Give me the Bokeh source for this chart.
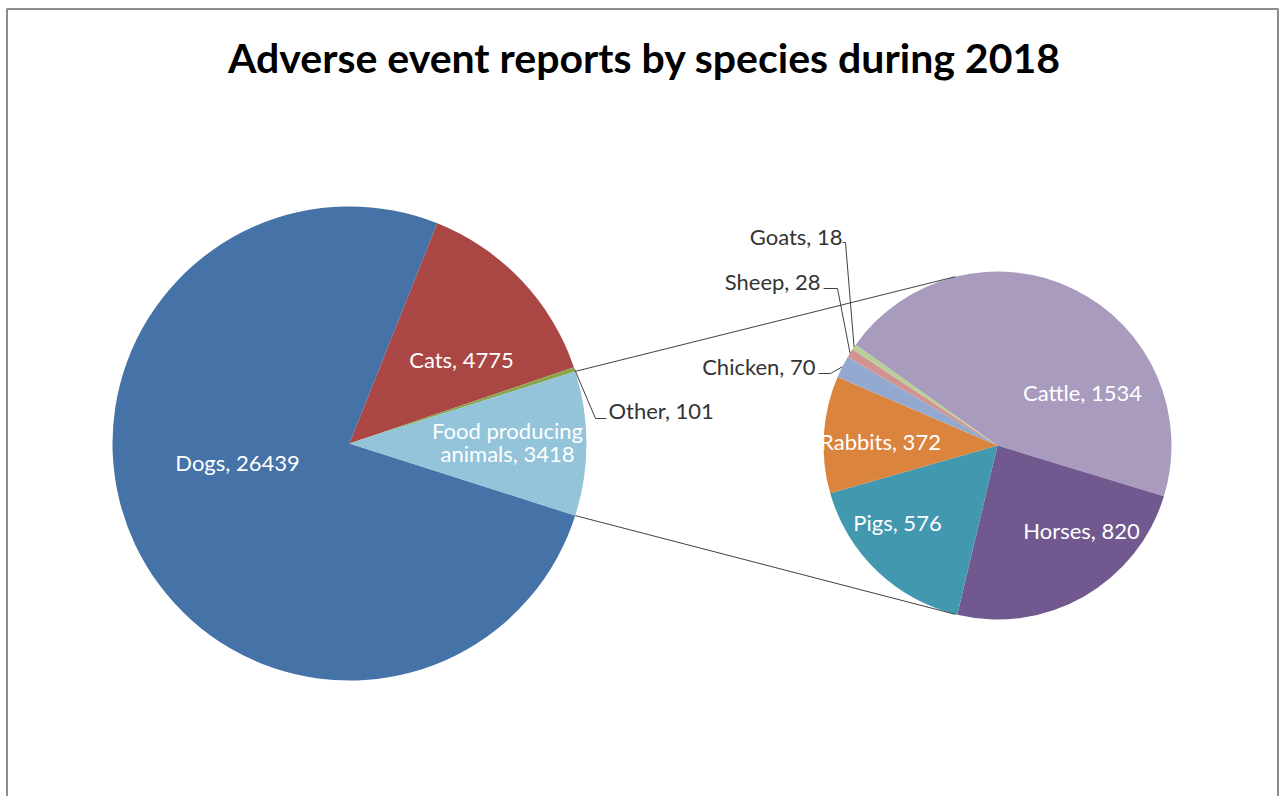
import math
from bokeh.plotting import figure
from bokeh.models import Range1d, ColumnDataSource
from bokeh.core.properties import value
from bokeh.embed import file_html
from bokeh.resources import INLINE

# ---------------- data ----------------
title = "Adverse event reports by species during 2018"
main_labels = ["Dogs", "Cats", "Other", "Food producing animals"]
main_values = [26439, 4775, 101, 3418]
sub_labels = ["Cattle", "Horses", "Pigs", "Rabbits", "Chicken", "Sheep", "Goats"]
sub_values = [1534, 820, 576, 372, 70, 28, 18]

main_colors = ["#4572A7", "#AA4643", "#89A54E", "#93C4DA"]
sub_colors = ["#A99BBD", "#71588F", "#4198AF", "#DB843D", "#93A9CF", "#D19392", "#B9CD96"]

# ---------------- layout ----------------
W, H = 1282, 796
FONT = "Lato"
LABEL_SIZE = "22px"
MAIN_C = (349, 443)   # screen coords
MAIN_R = 237
SUB_C = (997, 445)
SUB_R = 174
SUB_END_DEG = -17.0   # where the first (Cattle) slice ends, going clockwise
CONNECT_DEG = 104.0   # connection points on the secondary pie (+/-)


def sy(y):
    return H - y


p = figure(width=W, height=H, x_range=Range1d(0, W), y_range=Range1d(0, H),
           output_backend="svg", toolbar_location=None, min_border=0,
           background_fill_color="white", border_fill_color="white")
p.axis.visible = False
p.grid.visible = False
p.outline_line_color = None

# chart border
p.line(x=[6.5, 6.5, 1277.5, 1277.5], y=[sy(H + 5), sy(8.5), sy(8.5), sy(H + 5)],
       line_color="#8c8c8c", line_width=2)

# ---------------- main pie ----------------
tot = sum(main_values)
spans = [v / tot * 2 * math.pi for v in main_values]
order = [3, 2, 1, 0]  # anticlockwise from the food slice
a = -spans[3] / 2
starts = [0] * 4
ends = [0] * 4
for i in order:
    starts[i] = a
    ends[i] = a + spans[i]
    a += spans[i]
src_main = ColumnDataSource(dict(x=[MAIN_C[0]] * 4, y=[sy(MAIN_C[1])] * 4,
                                 s=starts, e=ends, c=main_colors))
p.wedge(x="x", y="y", radius=MAIN_R, start_angle="s", end_angle="e",
        fill_color="c", line_color=None, source=src_main)

# ---------------- secondary pie ----------------
stot = sum(sub_values)
sspans = [v / stot * 2 * math.pi for v in sub_values]
a = math.radians(SUB_END_DEG) + sspans[0]
sst, sen = [], []
for sp in sspans:  # clockwise
    sen.append(a)
    sst.append(a - sp)
    a -= sp
src_sub = ColumnDataSource(dict(x=[SUB_C[0]] * 7, y=[sy(SUB_C[1])] * 7,
                                s=sst, e=sen, c=sub_colors))
p.wedge(x="x", y="y", radius=SUB_R, start_angle="s", end_angle="e",
        fill_color="c", line_color=None, source=src_sub)

# ---------------- connector lines ----------------
def edge(c, r, ang):
    return c[0] + r * math.cos(ang), sy(c[1]) + r * math.sin(ang)

top_a = edge(MAIN_C, MAIN_R, ends[3])
bot_a = edge(MAIN_C, MAIN_R, starts[3])
top_b = edge(SUB_C, SUB_R, math.radians(CONNECT_DEG))
bot_b = edge(SUB_C, SUB_R, math.radians(-CONNECT_DEG))
p.multi_line(xs=[[top_a[0], top_b[0]], [bot_a[0], bot_b[0]]],
             ys=[[top_a[1], top_b[1]], [bot_a[1], bot_b[1]]],
             line_color="#404040", line_width=1)

# ---------------- leader lines ----------------
def mid(s, e):
    return (s + e) / 2

leaders = [
    (edge(MAIN_C, MAIN_R, mid(starts[2], ends[2])), [(595, 418), (606, 418)]),
    (edge(SUB_C, SUB_R, mid(sst[6], sen[6])), [(845, 242), (842, 242)]),
    (edge(SUB_C, SUB_R, mid(sst[5], sen[5])), [(837, 288), (823, 288)]),
    (edge(SUB_C, SUB_R, mid(sst[4], sen[4])), [(830, 373), (818, 373)]),
]
lxs, lys = [], []
for start, pts in leaders:
    lxs.append([start[0]] + [q[0] for q in pts])
    lys.append([start[1]] + [sy(q[1]) for q in pts])
p.multi_line(xs=lxs, ys=lys, line_color="#404040", line_width=1)

# ---------------- labels ----------------
def lab(name, v):
    return f"{name}, {v}"

white_labels = [
    (lab(main_labels[0], main_values[0]), 237, 462),
    (lab(main_labels[1], main_values[1]), 461, 359),
    ("Food producing", 507, 430),
    (f"animals, {main_values[3]}", 507, 453),
    (lab(sub_labels[0], sub_values[0]), 1082, 392),
    (lab(sub_labels[1], sub_values[1]), 1081, 530),
    (lab(sub_labels[2], sub_values[2]), 897, 522),
    (lab(sub_labels[3], sub_values[3]), 880, 441),
]
p.text(x=[t[1] for t in white_labels], y=[sy(t[2]) for t in white_labels],
       text=[t[0] for t in white_labels], text_color="white",
       text_font=value(FONT), text_font_size=LABEL_SIZE,
       text_align="center", text_baseline="middle")

dark_left = [(lab(main_labels[2], main_values[2]), 608, 410)]
p.text(x=[t[1] for t in dark_left], y=[sy(t[2]) for t in dark_left],
       text=[t[0] for t in dark_left], text_color="#333333",
       text_font=value(FONT), text_font_size=LABEL_SIZE,
       text_align="left", text_baseline="middle")

dark_right = [
    (lab(sub_labels[4], sub_values[4]), 815, 366),
    (lab(sub_labels[5], sub_values[5]), 820, 281),
    (lab(sub_labels[6], sub_values[6]), 842, 236),
]
p.text(x=[t[1] for t in dark_right], y=[sy(t[2]) for t in dark_right],
       text=[t[0] for t in dark_right], text_color="#333333",
       text_font=value(FONT), text_font_size=LABEL_SIZE,
       text_align="right", text_baseline="middle")

# title
p.text(x=[644], y=[sy(57)], text=[title], text_color="#000000",
       text_font=value(FONT), text_font_style="bold", text_font_size="41px",
       text_align="center", text_baseline="middle")

open("out.html", "w").write(file_html(p, INLINE))
